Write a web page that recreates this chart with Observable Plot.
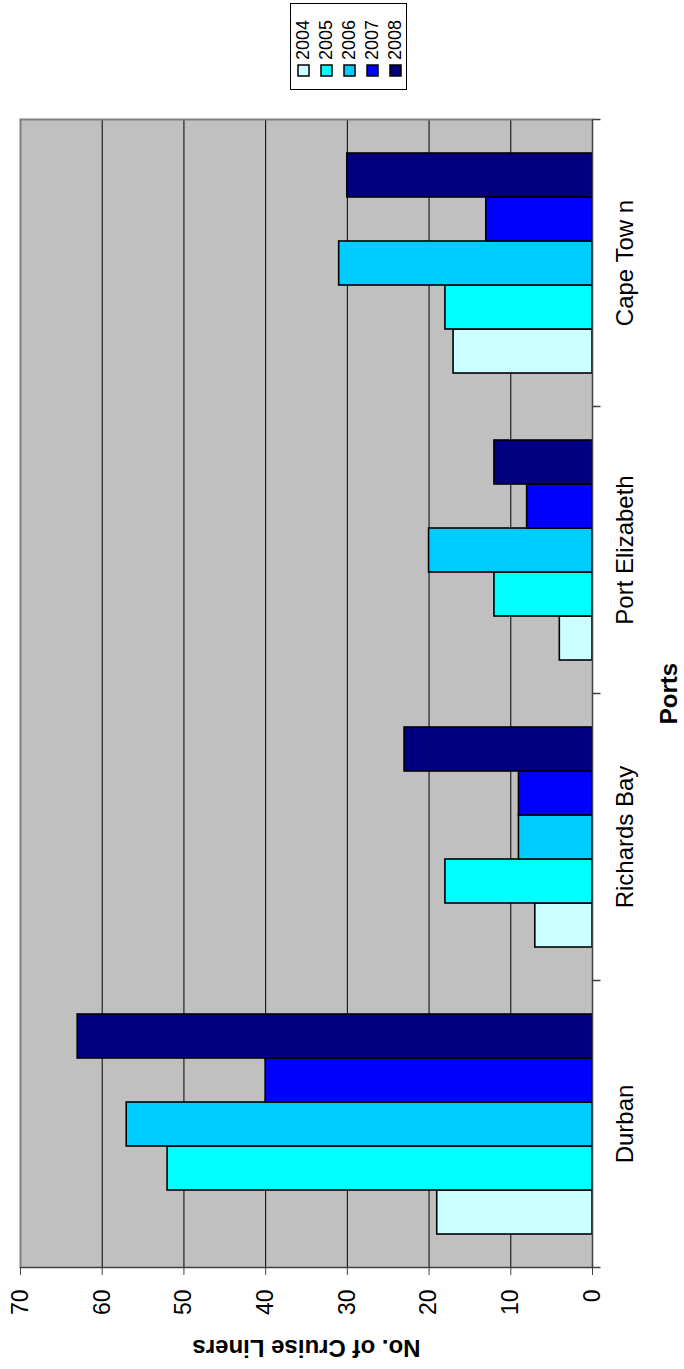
<!DOCTYPE html>
<html><head><meta charset="utf-8">
<script src="https://cdn.jsdelivr.net/npm/d3@7"></script>
<script src="https://cdn.jsdelivr.net/npm/@observablehq/plot@0.6"></script>
<style>
html,body{margin:0;padding:0;background:#fff;}
body{width:684px;height:1369px;overflow:hidden;position:relative;font-family:"Liberation Sans",Arial,sans-serif;}
#chart{position:absolute;left:0;top:0;width:1369px;height:684px;transform-origin:0 0;transform:translate(0px,1369px) rotate(-90deg);}
#legend{position:absolute;left:1279px;top:290px;width:87px;height:117px;box-sizing:border-box;border:1px solid #000;background:#fff;padding:1px 0 0 13px;overflow:hidden;}
#legend .lg-swatch{height:23px;line-height:23px;padding:0;margin:0;display:flex;align-items:center;}
#legend svg{overflow:visible;margin-right:5px;}
#legend svg rect{stroke:#000;stroke-width:1.5px;}
</style></head><body><div id="chart"></div>
<script>
const ports = ["Durban", "Richards Bay", "Port Elizabeth", "Cape Tow n"];
const years = ["2004", "2005", "2006", "2007", "2008"];
const colors = ["#CCFFFF", "#00FFFF", "#00CCFF", "#0000FF", "#000080"];
const v2004 = [19, 7, 4, 17];
const v2005 = [52, 18, 12, 18];
const v2006 = [57, 9, 20, 31];
const v2007 = [40, 9, 8, 13];
const v2008 = [63, 23, 12, 30];
const valueTicks = [0, 10, 20, 30, 40, 50, 60, 70];
const gridValues = [10, 20, 30, 40, 50, 60];

const series = [v2004, v2005, v2006, v2007, v2008];
const rows = [];
years.forEach((yr, j) => ports.forEach((p, i) => rows.push({port: p, year: yr, value: series[j][i]})));

const tickDown = {draw(ctx, size) { const l = Math.sqrt(size / Math.PI); ctx.moveTo(0, 0); ctx.lineTo(0, l); }};
const font = '"Liberation Sans", Arial, sans-serif';

const chart = Plot.plot({
  width: 1369, height: 684,
  marginLeft: 101, marginRight: 120, marginTop: 20, marginBottom: 92,
  style: {fontFamily: font, fontSize: "23px", color: "#000", background: "transparent", overflow: "visible"},
  fx: {domain: ports, padding: 0, label: null},
  x: {domain: years, paddingInner: 0, paddingOuter: 0.75, axis: null},
  y: {domain: [0, 70], label: null},
  color: {domain: years, range: colors},
  marks: [
    Plot.frame({facet: "super", fill: "#c0c0c0"}),
    Plot.ruleY(gridValues, {stroke: "#000", strokeWidth: 1}),
    Plot.barY(rows, {fx: "port", x: "year", y: "value", fill: "year", stroke: "#000", strokeWidth: 1.6}),
    Plot.ruleY([70], {stroke: "#808080", strokeWidth: 2}),
    Plot.frame({facet: "super", anchor: "right", stroke: "#808080", strokeWidth: 2}),
    Plot.frame({facet: "super", anchor: "left", stroke: "#404040", strokeWidth: 1.5}),
    Plot.ruleY([0], {stroke: "#404040", strokeWidth: 1.5}),
    Plot.axisY({ticks: valueTicks, tickSize: 7, tickPadding: 15, fontSize: 23, label: null, stroke: "#404040", fill: "#000"}),
    Plot.axisFx({anchor: "bottom", tickSize: 0, tickPadding: 23, fontSize: 24, label: null, fill: "#000"}),
    Plot.dot(ports, {fx: d => d, frameAnchor: "bottom-left", symbol: tickDown, r: 8, stroke: "#404040", strokeWidth: 1.5, fill: "none"}),
    Plot.dot([0], {facet: "super", frameAnchor: "bottom-right", symbol: tickDown, r: 8, stroke: "#404040", strokeWidth: 1.5, fill: "none"}),
    Plot.text(["No. of Cruise Liners"], {facet: "super", frameAnchor: "left", rotate: -90, dx: -80, textAnchor: "middle", fontWeight: "bold", fontSize: 24, lineAnchor: "middle", fill: "#000"}),
    Plot.text(["Ports"], {facet: "super", frameAnchor: "bottom", dy: 77, textAnchor: "middle", fontWeight: "bold", fontSize: 24, lineAnchor: "middle", fill: "#000"})
  ]
});
const holder = document.getElementById("chart");
holder.appendChild(chart);

const leg = Plot.legend({color: {domain: years, range: colors}, legend: "swatches", columns: 1, swatchSize: 11, className: "lg", style: {fontSize: "18px", fontFamily: font, color: "#000"}});
const box = document.createElement("div");
box.id = "legend";
box.appendChild(leg);
holder.appendChild(box);
</script></body></html>
